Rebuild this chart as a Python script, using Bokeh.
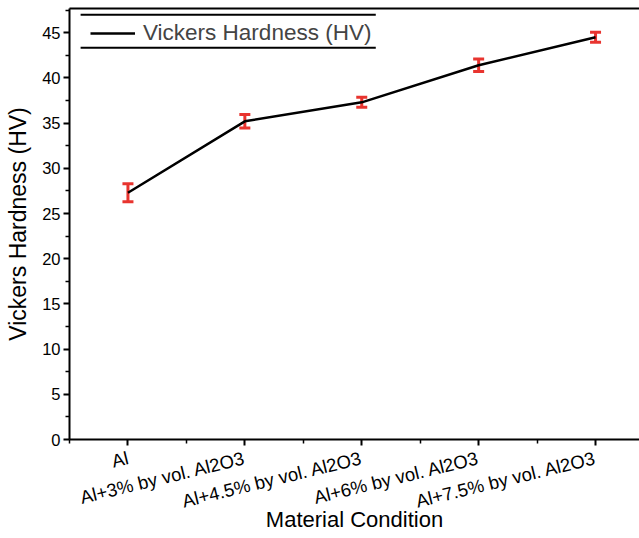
from bokeh.plotting import figure
from bokeh.models import (ColumnDataSource, Whisker, TeeHead, FixedTicker,
                          LinearAxis, Legend, LegendItem, Range1d, Arrow)
from bokeh.embed import file_html
from bokeh.resources import INLINE

categories = ["Al", "Al+3% by vol. Al2O3", "Al+4.5% by vol. Al2O3",
              "Al+6% by vol. Al2O3", "Al+7.5% by vol. Al2O3"]
hardness = [27.3, 35.2, 37.3, 41.4, 44.5]
hardness_err = [1.0, 0.75, 0.55, 0.7, 0.55]
y_ticks = [0, 5, 10, 15, 20, 25, 30, 35, 40, 45]

FONT = "Liberation Sans"
RED = "#e8342f"

pos = list(range(len(categories)))
src = ColumnDataSource(dict(
    x=pos, y=hardness,
    lower=[h - e for h, e in zip(hardness, hardness_err)],
    upper=[h + e for h, e in zip(hardness, hardness_err)],
))

p = figure(width=639, height=538, output_backend="svg", toolbar_location=None,
           x_range=Range1d(-0.5, 4.376), y_range=Range1d(0, 47.68),
           min_border_left=69, min_border_right=0, min_border_top=8, min_border_bottom=99)
p.outline_line_color = None
p.grid.grid_line_color = None
p.background_fill_color = "white"
p.border_fill_color = "white"

r = p.line("x", "y", source=src, line_color="black", line_width=2.5)

w = Whisker(source=src, base="x", lower="lower", upper="upper",
            line_color=RED, line_width=3,
            lower_head=TeeHead(size=11, line_color=RED, line_width=3),
            upper_head=TeeHead(size=11, line_color=RED, line_width=3))
p.add_layout(w)

# x axis
xa = p.xaxis[0]
xa.ticker = FixedTicker(ticks=pos, minor_ticks=[i + 0.5 for i in range(-1, len(categories))])
xa.major_label_overrides = {i: c for i, c in enumerate(categories)}
xa.major_label_orientation = 0.24
xa.axis_label = "Material Condition"
# y axis
ya = p.yaxis[0]
ya.ticker = FixedTicker(ticks=y_ticks, minor_ticks=[t + 2.5 for t in y_ticks])
ya.axis_label = "Vickers Hardness (HV)"

for ax in (xa, ya):
    ax.axis_line_width = 2
    ax.axis_line_color = "black"
    ax.major_tick_line_width = 2
    ax.minor_tick_line_width = 1.5
    ax.major_tick_out = 6
    ax.major_tick_in = 0
    ax.minor_tick_out = 4
    ax.minor_tick_in = 0
    ax.major_label_text_font = FONT
    ax.major_label_text_color = "black"
    ax.axis_label_text_font = FONT
    ax.axis_label_text_font_style = "normal"
    ax.axis_label_text_color = "black"
ya.major_label_text_font_size = "16.5px"
xa.major_label_text_font_size = "18.5px"
ya.axis_label_text_font_size = "23px"
xa.axis_label_text_font_size = "22px"
ya.major_label_standoff = 3
ya.axis_label_standoff = 8
xa.major_label_standoff = 12
xa.axis_label_standoff = -18

top = LinearAxis(axis_line_width=2, axis_line_color="black",
                 ticker=FixedTicker(ticks=[]),
                 major_tick_line_color=None, minor_tick_line_color=None)
p.add_layout(top, "above")

legend = Legend(items=[LegendItem(label="Vickers Hardness (HV)", renderers=[r])],
                location=(21, 393), border_line_color=None, background_fill_alpha=0,
                label_text_font=FONT, label_text_font_size="22.5px",
                glyph_width=45, glyph_height=20, label_height=20, label_standoff=8,
                padding=6, margin=0)
p.add_layout(legend)
# legend rules (top and bottom lines of the legend box)
for yy in (47.0, 43.35):
    p.add_layout(Arrow(end=None, x_start=-0.405, x_end=2.12, y_start=yy, y_end=yy,
                       line_color="black", line_width=2))

open("out.html", "w").write(file_html(p, INLINE))
